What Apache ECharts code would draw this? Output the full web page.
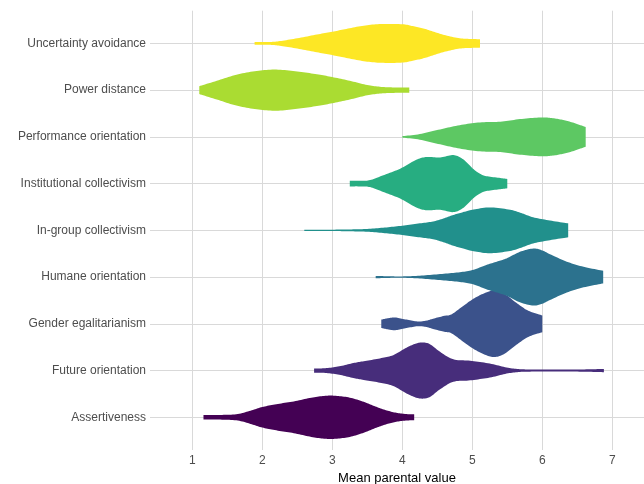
<!DOCTYPE html>
<html><head><meta charset="utf-8">
<script src="https://cdn.jsdelivr.net/npm/echarts@6/dist/echarts.min.js"></script>
<style>html,body{margin:0;padding:0;background:#fff}#c{width:644px;height:484px}</style>
</head><body><div id="c"></div>
<script>
// Categories from bottom (index 0) to top (index 8)
const categories = ['Assertiveness','Future orientation','Gender egalitarianism','Humane orientation','In-group collectivism','Institutional collectivism','Performance orientation','Power distance','Uncertainty avoidance'];
const colors = ['#440154','#472D7B','#3B528B','#2C728E','#21908C','#27AD81','#5DC863','#AADC32','#FDE725'];
const xTickLabels = ['1','2','3','4','5','6','7'];

// Violin outlines: mean parental value (x) and density half-width (in category units)
const assertivenessX = [1.16,1.4,1.65,1.85,2.0,2.2,2.45,2.7,2.9,3.05,3.25,3.45,3.6,3.75,3.9,4.05,4.17];
const assertivenessW = [0.05,0.05,0.07,0.15,0.22,0.28,0.34,0.42,0.46,0.46,0.42,0.33,0.24,0.16,0.1,0.07,0.065];
const futureX = [2.74,2.9,3.1,3.3,3.45,3.68,3.87,4.06,4.2,4.3,4.4,4.54,4.73,4.97,5.25,5.49,5.68,5.9,6.25,6.6,6.88];
const futureW = [0.045,0.05,0.09,0.16,0.2,0.26,0.33,0.49,0.58,0.6,0.56,0.4,0.24,0.21,0.15,0.065,0.03,0.022,0.02,0.025,0.035];
const genderX = [3.7,3.8,3.9,4.06,4.23,4.35,4.44,4.6,4.7,4.85,5.0,5.15,5.3,5.45,5.63,5.8,6.0];
const genderW = [0.09,0.12,0.135,0.09,0.05,0.07,0.11,0.17,0.2,0.36,0.52,0.64,0.71,0.65,0.45,0.28,0.18];
const humaneX = [3.62,3.8,4.0,4.25,4.54,4.8,5.0,5.2,5.35,5.49,5.68,5.87,6.0,6.11,6.35,6.59,6.87];
const humaneW = [0.025,0.018,0.015,0.03,0.065,0.1,0.15,0.26,0.33,0.4,0.54,0.61,0.57,0.49,0.33,0.22,0.135];
const ingroupX = [2.6,3.0,3.25,3.5,3.75,4.0,4.25,4.44,4.6,4.73,4.87,5.0,5.25,5.54,5.7,5.87,6.11,6.37];
const ingroupW = [0.015,0.015,0.02,0.03,0.06,0.1,0.15,0.19,0.26,0.33,0.39,0.44,0.49,0.44,0.37,0.28,0.21,0.15];
const institutionalX = [3.25,3.4,3.54,3.73,3.97,4.2,4.35,4.54,4.73,4.87,5.01,5.1,5.2,5.4,5.5];
const institutionalW = [0.06,0.06,0.075,0.18,0.32,0.51,0.57,0.56,0.61,0.52,0.32,0.22,0.16,0.12,0.1];
const performanceX = [4.0,4.25,4.54,4.82,5.11,5.4,5.68,5.97,6.15,6.3,6.45,6.62];
const performanceW = [0.015,0.06,0.16,0.25,0.31,0.325,0.38,0.415,0.4,0.36,0.3,0.21];
const powerX = [1.1,1.35,1.63,1.92,2.2,2.5,2.78,3.0,3.25,3.5,3.7,3.9,4.1];
const powerW = [0.085,0.2,0.33,0.41,0.44,0.4,0.34,0.28,0.2,0.11,0.07,0.058,0.057];
const uncertaintyX = [1.89,2.1,2.25,2.5,2.78,3.0,3.2,3.45,3.7,4.0,4.15,4.3,4.45,4.6,4.82,5.0,5.11];
const uncertaintyW = [0.03,0.03,0.05,0.11,0.19,0.25,0.31,0.38,0.415,0.41,0.37,0.32,0.25,0.18,0.11,0.095,0.09];

const violinX = [assertivenessX,futureX,genderX,humaneX,ingroupX,institutionalX,performanceX,powerX,uncertaintyX];
const violinW = [assertivenessW,futureW,genderW,humaneW,ingroupW,institutionalW,performanceW,powerW,uncertaintyW];

function spline(p) {
  const out = [p[0]];
  const n = p.length;
  for (let k = 0; k < n - 1; k++) {
    const p0 = p[Math.max(0, k - 1)], p1 = p[k], p2 = p[k + 1], p3 = p[Math.min(n - 1, k + 2)];
    const c1 = [p1[0] + (p2[0] - p0[0]) / 6, p1[1] + (p2[1] - p0[1]) / 6];
    const c2 = [p2[0] - (p3[0] - p1[0]) / 6, p2[1] - (p3[1] - p1[1]) / 6];
    const steps = 10;
    for (let s = 1; s <= steps; s++) {
      const t = s / steps, u = 1 - t;
      out.push([
        u*u*u*p1[0] + 3*u*u*t*c1[0] + 3*u*t*t*c2[0] + t*t*t*p2[0],
        u*u*u*p1[1] + 3*u*u*t*c1[1] + 3*u*t*t*c2[1] + t*t*t*p2[1]
      ]);
    }
  }
  return out;
}

function renderItem(params, api) {
  const i = params.dataIndex;
  const xs = violinX[i], ws = violinW[i];
  const top = xs.map((x, k) => api.coord([x, i + ws[k]]));
  const bot = xs.map((x, k) => api.coord([x, i - ws[k]]));
  const pts = spline(top).concat(spline(bot).reverse());
  return { type: 'polygon', shape: { points: pts }, style: { fill: colors[i] } };
}

const font = '"Liberation Sans", Arial, sans-serif';
const chart = echarts.init(document.getElementById('c'), null, { renderer: 'canvas' });
chart.setOption({
  animation: false,
  backgroundColor: '#ffffff',
  grid: { left: 150, right: 0, top: 10.7, bottom: 34, containLabel: false, outerBoundsMode: 'none' },
  xAxis: {
    type: 'value', min: 0.396, max: 7.453, minInterval: 1, maxInterval: 1, splitNumber: 7,
    axisLine: { show: false }, axisTick: { show: false },
    axisLabel: { color: '#4d4d4d', fontSize: 12, fontFamily: font, margin: 5,
      showMinLabel: false, showMaxLabel: false,
      formatter: v => (Math.abs(v - Math.round(v)) < 1e-6 && v >= 1 && v <= 7) ? xTickLabels[Math.round(v) - 1] : '' },
    splitLine: { show: true, showMinLine: false, showMaxLine: false, lineStyle: { color: '#d9d9d9', width: 1 } },
    name: 'Mean parental value', nameLocation: 'middle', nameGap: 17,
    nameTextStyle: { color: '#000', fontSize: 13, fontFamily: font }
  },
  yAxis: {
    type: 'value', min: -0.7, max: 8.7, minInterval: 1, maxInterval: 1, splitNumber: 9,
    axisLine: { show: false }, axisTick: { show: false },
    axisLabel: { color: '#4d4d4d', fontSize: 12, fontFamily: font, margin: 4,
      showMinLabel: false, showMaxLabel: false,
      formatter: v => (Math.abs(v - Math.round(v)) < 1e-6 && v >= 0 && v <= 8) ? categories[Math.round(v)] : '' },
    splitLine: { show: true, showMinLine: false, showMaxLine: false, lineStyle: { color: '#d9d9d9', width: 1 } }
  },
  series: [{
    type: 'custom',
    renderItem: renderItem,
    encode: { x: 0, y: 1 },
    data: categories.map((c, i) => [violinX[i][0], i]),
    silent: true
  }]
});
</script></body></html>
